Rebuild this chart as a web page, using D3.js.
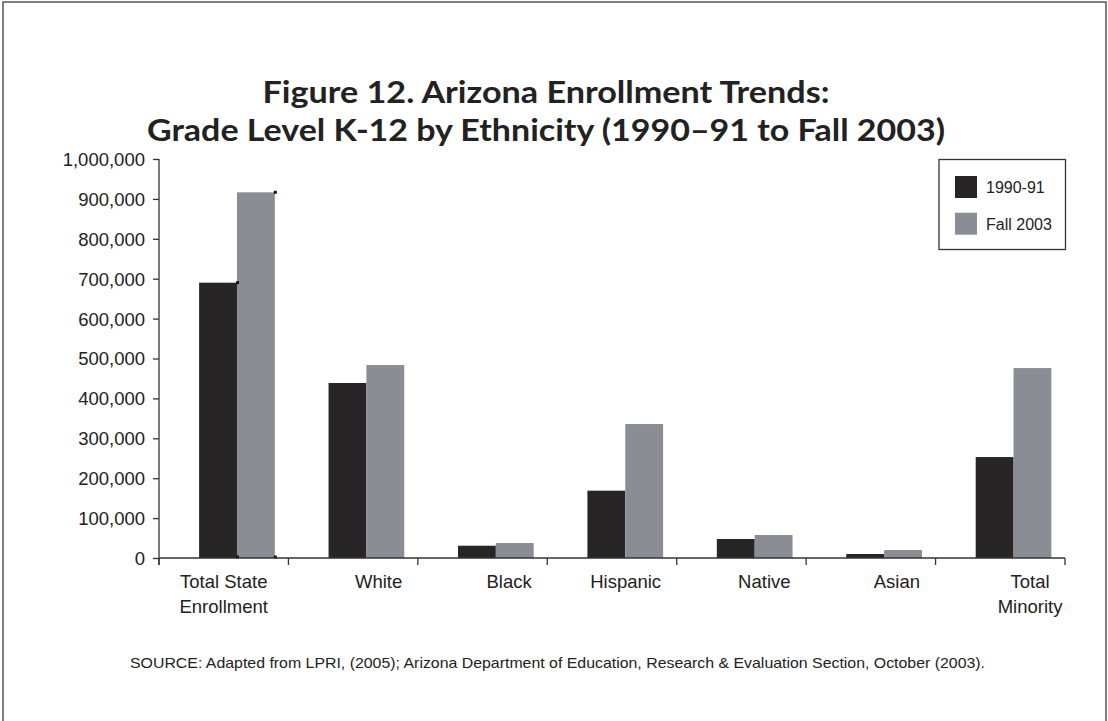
<!DOCTYPE html>
<html>
<head>
<meta charset="utf-8">
<script src="https://cdn.jsdelivr.net/npm/d3@7"></script>
<style>
  html, body { margin: 0; padding: 0; background: #fff; }
  svg { display: block; }
</style>
</head>
<body>
<svg id="chart" width="1108" height="721"></svg>
<script>
// ---------- data ----------
const categories = ["Total State Enrollment", "White", "Black", "Hispanic", "Native", "Asian", "Total Minority"];
const categoryLines = [["Total State", "Enrollment"], ["White"], ["Black"], ["Hispanic"], ["Native"], ["Asian"], ["Total", "Minority"]];
const seriesNames = ["1990-91", "Fall 2003"];
const values1990 = [690000, 438600, 30800, 168700, 47600, 10000, 253000];
const values2003 = [916500, 483700, 37600, 335800, 57600, 20000, 476000];
const yTicks = [0, 100000, 200000, 300000, 400000, 500000, 600000, 700000, 800000, 900000, 1000000];
const titleLines = ["Figure 12. Arizona Enrollment Trends:", "Grade Level K-12 by Ethnicity (1990\u201391 to Fall 2003)"];
const sourceText = "SOURCE: Adapted from LPRI, (2005); Arizona Department of Education, Research & Evaluation Section, October (2003).";

// ---------- styling / layout ----------
const colors = ["#272526", "#8a8e94"];
const labelFont = "'Liberation Sans', Arial, Helvetica, sans-serif";
const titleFont = "Lato, 'Open Sans', sans-serif";
const textColor = "#222";
const axisColor = "#333";

const svg = d3.select("#chart");

// outer frame
svg.append("rect").attr("x", 3).attr("y", 2).attr("width", 1103).attr("height", 740)
  .attr("fill", "none").attr("stroke", "#555").attr("stroke-width", 1.5);

// title
const titleY = [103, 141];
const titleW = [567, 798];
titleLines.forEach((t, i) => {
  svg.append("text").attr("x", 546).attr("y", titleY[i])
    .attr("text-anchor", "middle")
    .attr("font-family", titleFont).attr("font-weight", 700).attr("font-size", 30)
    .attr("fill", textColor)
    .attr("textLength", titleW[i]).attr("lengthAdjust", "spacingAndGlyphs")
    .text(t);
});

// scales
const x0 = d3.scaleBand().domain(categories).range([159, 1065]).padding(0);
const bw = x0.bandwidth();
const x1 = d3.scaleBand().domain(seriesNames).range([0.31 * bw, 0.895 * bw]).padding(0);
const y = d3.scaleLinear().domain([0, 1000000]).range([558, 159]);

// bars
const seriesData = [values1990, values2003];
const groups = svg.append("g").selectAll("g").data(categories).join("g")
  .attr("transform", d => `translate(${x0(d)},0)`);
groups.selectAll("rect").data((d, i) => seriesNames.map((s, k) => ({ s, v: seriesData[k][i] })))
  .join("rect")
  .attr("x", d => x1(d.s))
  .attr("width", x1.bandwidth())
  .attr("y", d => y(d.v))
  .attr("height", d => y(0) - y(d.v))
  .attr("fill", (d, k) => colors[k]);

// small handle markers on first group (as in reference)
const first = categories[0];
seriesNames.forEach((s, k) => {
  const xr = x0(first) + x1(s) + x1.bandwidth();
  const v = seriesData[k][0];
  svg.append("rect").attr("x", xr - 1).attr("y", y(v) - 1.5).attr("width", 3).attr("height", 3).attr("fill", "#111");
  svg.append("rect").attr("x", xr - 1).attr("y", y(0) - 2.5).attr("width", 3).attr("height", 3).attr("fill", "#111");
});

// y axis
const yAxis = svg.append("g").attr("transform", "translate(159,0)")
  .call(d3.axisLeft(y).tickValues(yTicks).tickSize(6).tickPadding(8).tickFormat(d3.format(",")));
yAxis.select(".domain").remove();
yAxis.selectAll(".tick line").attr("stroke", axisColor).attr("stroke-width", 1.3);
yAxis.selectAll(".tick text").attr("font-family", labelFont).attr("font-size", 18.5)
  .attr("fill", textColor).attr("dy", "0.35em");
svg.append("line").attr("x1", 159).attr("x2", 159).attr("y1", y(1000000)).attr("y2", 565)
  .attr("stroke", axisColor).attr("stroke-width", 1.3);

// x axis
svg.append("line").attr("x1", 159).attr("x2", 1065).attr("y1", y(0)).attr("y2", y(0))
  .attr("stroke", axisColor).attr("stroke-width", 1.5);
const tickXs = categories.map(c => x0(c)).concat([x0.range()[1]]);
svg.append("g").selectAll("line").data(tickXs).join("line")
  .attr("x1", d => d).attr("x2", d => d).attr("y1", y(0)).attr("y2", 565)
  .attr("stroke", axisColor).attr("stroke-width", 1.3);

// x labels
const labelAnchor = ["middle", "end", "end", "end", "end", "end", "middle"];
const labelPos = (i) => {
  if (i === 0) return x0(categories[i]) + bw / 2;
  if (labelAnchor[i] === "middle") return x0(categories[i]) + 0.73 * bw;
  return x0(categories[i]) + x1(seriesNames[1]) + x1.bandwidth() - 2;
};
categoryLines.forEach((lines, i) => {
  lines.forEach((ln, j) => {
    svg.append("text").attr("x", labelPos(i)).attr("y", 588 + j * 25)
      .attr("text-anchor", labelAnchor[i])
      .attr("font-family", labelFont).attr("font-size", 18.5).attr("fill", textColor)
      .text(ln);
  });
});

// legend
const lg = svg.append("g");
lg.append("rect").attr("x", 939).attr("y", 159.5).attr("width", 126.5).attr("height", 90)
  .attr("fill", "#fff").attr("stroke", "#333").attr("stroke-width", 1.3);
seriesNames.forEach((s, k) => {
  lg.append("rect").attr("x", 955).attr("y", 176 + k * 36.7).attr("width", 22).attr("height", 22).attr("fill", colors[k]);
  lg.append("text").attr("x", 986).attr("y", 193 + k * 36.7)
    .attr("font-family", labelFont).attr("font-size", 16).attr("fill", textColor).text(s);
});

// source
svg.append("text").attr("x", 130).attr("y", 668)
  .attr("font-family", labelFont).attr("font-size", 14.5).attr("fill", textColor)
  .attr("textLength", 855).attr("lengthAdjust", "spacingAndGlyphs")
  .text(sourceText);
</script>
</body>
</html>
